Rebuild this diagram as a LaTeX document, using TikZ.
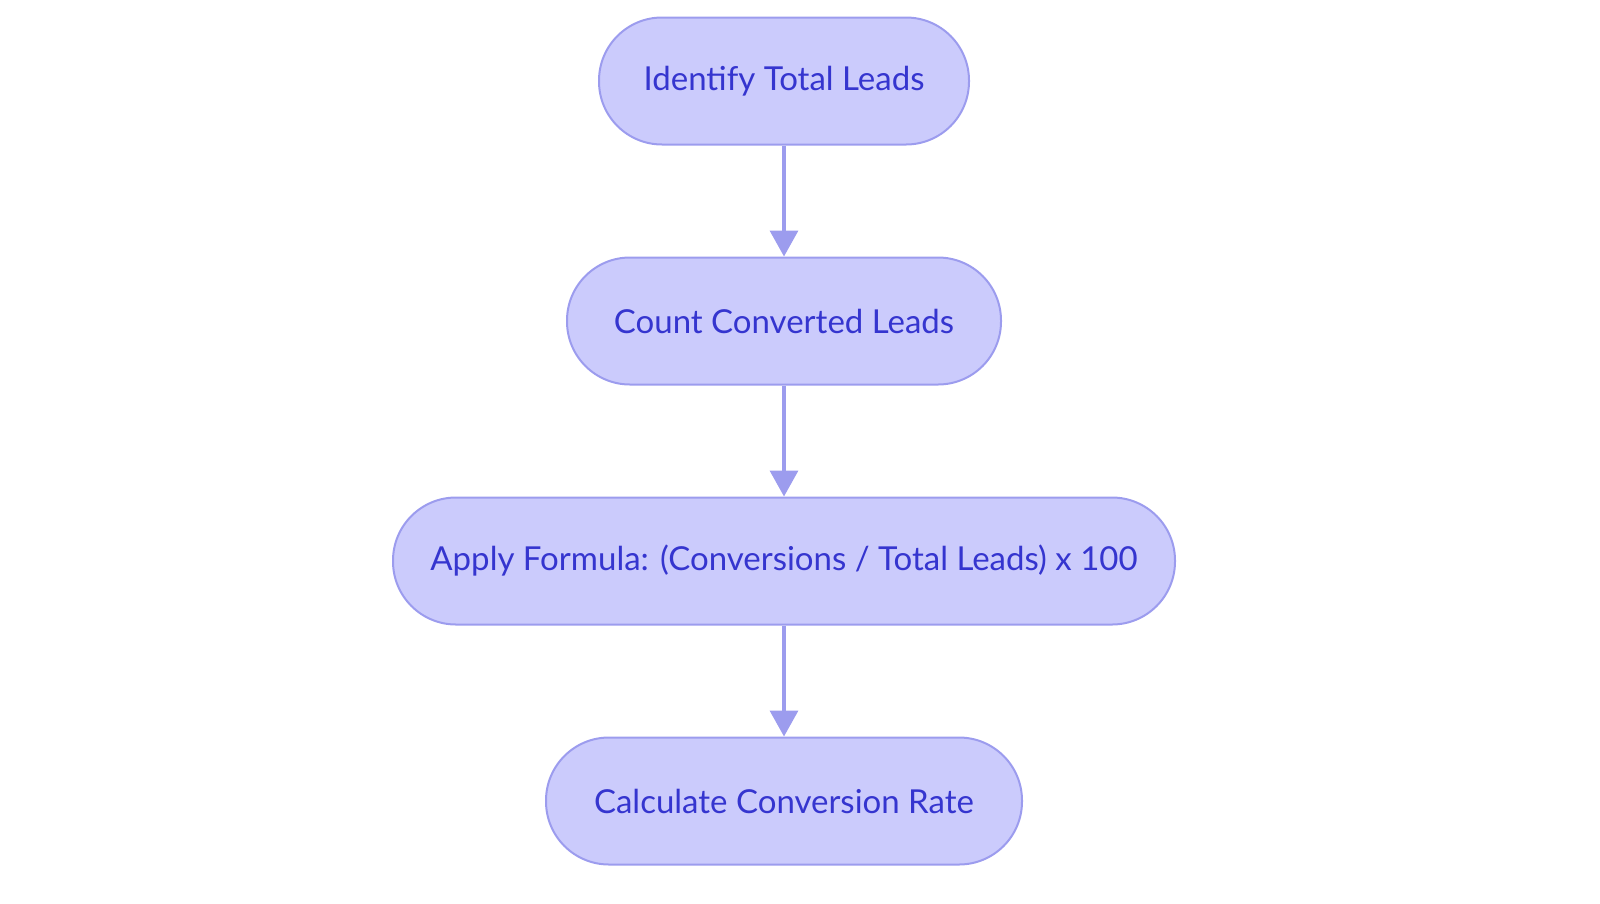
\documentclass[tikz,border=0pt]{standalone}
\usepackage{fontspec}
\setmainfont{Lato}
\usetikzlibrary{arrows.meta}
\definecolor{fillc}{HTML}{CBCBFC}
\definecolor{linec}{HTML}{9C9CEE}
\definecolor{textc}{HTML}{3535CF}
\begin{document}
\begin{tikzpicture}[x=1pt,y=-1pt,
  box/.style={draw=linec,line width=2pt,fill=fillc,rounded corners=63pt,minimum height=127pt,text=textc,font=\fontsize{33}{38}\selectfont,inner sep=0pt},
  arr/.style={draw=linec,line width=3.5pt,-{Triangle[length=26pt,width=28pt]}}]
\useasboundingbox (0,0) rectangle (1600,903);
\node[box,minimum width=370pt] (a) at (784,81) {Identify Total Leads};
\node[box,minimum width=434pt] (b) at (784,321) {Count Converted Leads};
\node[box,minimum width=782pt] (c) at (784,561) {Apply Formula: (Conversions / Total Leads) x 100};
\node[box,minimum width=476pt] (d) at (784,801) {Calculate Conversion Rate};
\draw[arr] (a) -- (b);
\draw[arr] (b) -- (c);
\draw[arr] (c) -- (d);
\end{tikzpicture}
\end{document}
